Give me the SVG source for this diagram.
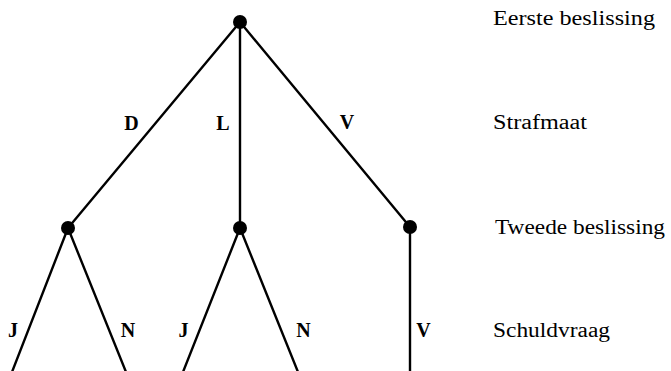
<svg xmlns="http://www.w3.org/2000/svg" width="671" height="371" viewBox="0 0 671 371">
<style>
.edge{stroke:#000;stroke-width:2.4;fill:none;stroke-linecap:round}
.node{fill:#000}
.lbl{font-family:"Liberation Serif","Times New Roman",serif;font-size:20px;font-weight:bold;fill:#000;text-anchor:middle}
.lvl{font-family:"Liberation Serif","Times New Roman",serif;font-size:20.5px;fill:#000}
</style>
<rect width="671" height="371" fill="#fff"/>
<g id="connectors">
<line class="edge" x1="240" y1="22" x2="68" y2="228"/>
<line class="edge" x1="240" y1="22" x2="240" y2="228"/>
<line class="edge" x1="240" y1="22" x2="410" y2="227"/>
<line class="edge" x1="68" y1="228" x2="12" y2="372"/>
<line class="edge" x1="68" y1="228" x2="126" y2="372"/>
<line class="edge" x1="240" y1="228" x2="183" y2="372"/>
<line class="edge" x1="240" y1="228" x2="298" y2="372"/>
<line class="edge" x1="410" y1="227" x2="410" y2="372"/>
<text class="lbl" x="131.5" y="130">D</text>
<text class="lbl" x="223" y="130">L</text>
<text class="lbl" x="347" y="129">V</text>
<text class="lbl" x="13" y="337">J</text>
<text class="lbl" x="128" y="337">N</text>
<text class="lbl" x="183.5" y="337">J</text>
<text class="lbl" x="303.5" y="337">N</text>
<text class="lbl" x="423.5" y="337">V</text>
</g>
<g id="n-root"><circle class="node" cx="240" cy="22" r="7"/></g>
<g id="n-D"><circle class="node" cx="68" cy="228" r="7"/></g>
<g id="n-L"><circle class="node" cx="240" cy="228" r="7"/></g>
<g id="n-V"><circle class="node" cx="410" cy="227" r="7"/></g>
<g id="levels">
<text class="lvl" x="493" y="25" textLength="162" lengthAdjust="spacingAndGlyphs">Eerste beslissing</text>
<text class="lvl" x="493" y="129" textLength="94" lengthAdjust="spacingAndGlyphs">Strafmaat</text>
<text class="lvl" x="495" y="234" textLength="170" lengthAdjust="spacingAndGlyphs">Tweede beslissing</text>
<text class="lvl" x="493" y="337" textLength="117" lengthAdjust="spacingAndGlyphs">Schuldvraag</text>
</g>
</svg>
